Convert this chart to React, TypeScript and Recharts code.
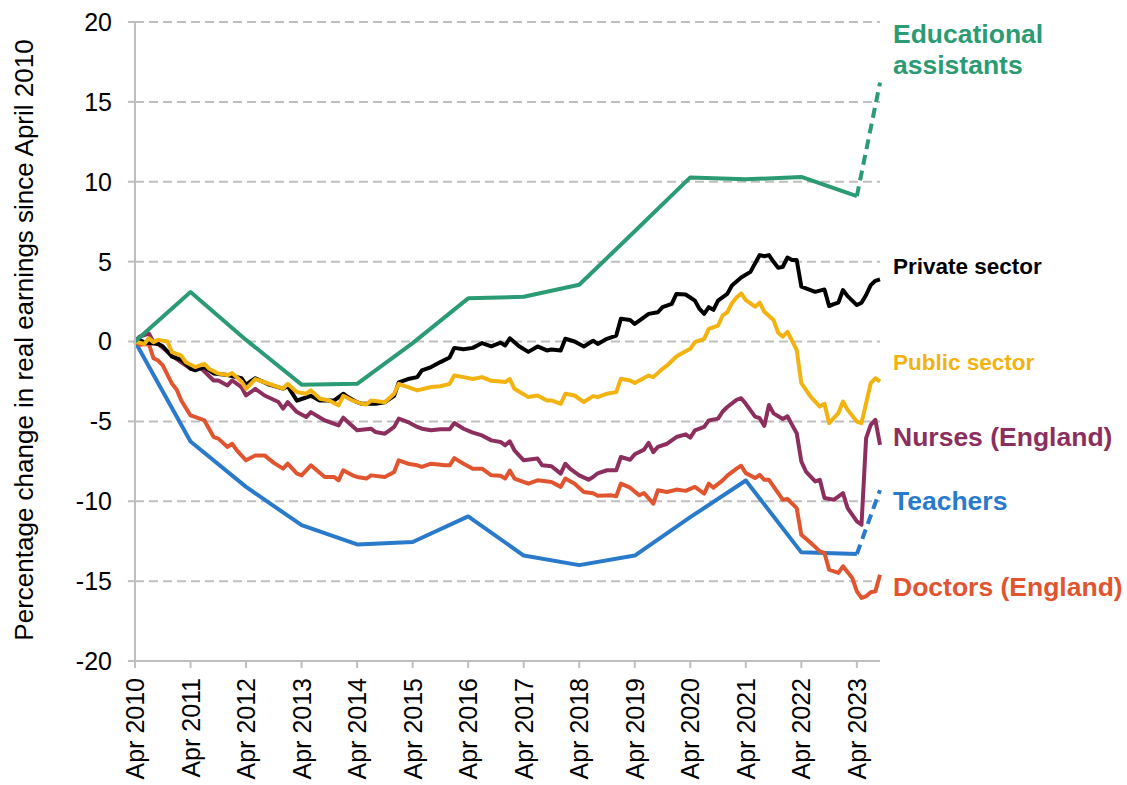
import React from "react";
import {
  LineChart,
  Line,
  XAxis,
  YAxis,
  CartesianGrid,
} from "recharts";

// months counted from Apr 2010 (0) to Sep 2023 (161)
const annualMonths = [0, 12, 24, 36, 48, 60, 72, 84, 96, 108, 120, 132, 144, 156];
const latestMonth = 161;
const xTickLabels = [
  "Apr 2010", "Apr 2011", "Apr 2012", "Apr 2013", "Apr 2014", "Apr 2015", "Apr 2016",
  "Apr 2017", "Apr 2018", "Apr 2019", "Apr 2020", "Apr 2021", "Apr 2022", "Apr 2023",
];
const yTicks = [-20, -15, -10, -5, 0, 5, 10, 15, 20];

// annual series (solid up to Apr 2023, then dashed to the latest figure)
const educationalAssistants = [0, 3.1, 0.1, -2.7, -2.65, -0.1, 2.7, 2.8, 3.55, 6.9, 10.27, 10.15, 10.3, 9.1];
const educationalAssistantsLatest = 16.2;
const teachers = [0, -6.26, -9.1, -11.5, -12.7, -12.55, -10.95, -13.4, -14.0, -13.4, -11.0, -8.7, -13.2, -13.3];
const teachersLatest = -9.3;

// monthly series: [month, % change]
const privateSector: [number, number][] = [
  [0, 0], [1, 0.1], [2, -0.05], [3, -0.1], [5, -0.15], [6, -0.3], [8, -0.95], [10, -1.15],
  [12, -1.7], [13, -1.8], [15, -1.6], [17, -2.0], [20, -2.1], [23, -2.3], [24, -2.7], [26, -2.3],
  [29, -2.7], [32, -2.95], [33, -2.8], [35, -3.7], [36, -3.6], [38, -3.4], [40, -3.7], [43, -3.7],
  [45, -3.27], [46, -3.48], [48, -3.8], [49, -3.9], [52, -3.9], [54, -3.8], [56, -3.4], [57, -2.56],
  [59, -2.35], [61, -2.23], [62, -1.81], [64, -1.6], [66, -1.29], [68, -1.0], [69, -0.4], [71, -0.48],
  [73, -0.4], [75, -0.1], [77, -0.3], [79, -0.07], [80, -0.25], [81, 0.2], [83, -0.3], [85, -0.65],
  [87, -0.31], [89, -0.56], [90, -0.5], [92, -0.56], [93, 0.17], [95, 0], [97, -0.31], [99, 0.05],
  [100, -0.15], [102, 0.17], [104, 0.37], [105, 1.42], [107, 1.35], [108, 1.1], [109, 1.31], [111, 1.73],
  [113, 1.83], [114, 2.15], [116, 2.35], [117, 2.98], [119, 2.94], [121, 2.56], [122, 2.04], [123, 1.73],
  [124, 2.15], [125, 1.98], [126, 2.56], [128, 2.98], [129, 3.5], [130, 3.75], [131, 4.01], [133, 4.36],
  [135, 5.41], [136, 5.34], [137, 5.41], [138, 4.99], [139, 4.61], [140, 4.68], [141, 5.26], [142, 5.1],
  [143, 5.1], [144, 3.43], [146, 3.22], [147, 3.11], [149, 3.26], [150, 2.22], [151, 2.34], [152, 2.43],
  [153, 3.22], [154, 2.84], [156, 2.28], [157, 2.43], [158, 2.91], [159, 3.53], [160, 3.8], [161, 3.89],
];

const publicSector: [number, number][] = [
  [0, 0], [2, -0.15], [3, 0.2], [4, -0.04], [5, 0.1], [7, 0.0], [8, -0.67], [10, -0.88],
  [11, -1.3], [13, -1.6], [15, -1.4], [16, -1.7], [18, -2.0], [20, -2.1], [21, -1.98], [23, -2.5],
  [24, -2.96], [26, -2.35], [28, -2.55], [31, -2.85], [32, -2.95], [33, -2.65], [35, -3.17], [37, -3.27],
  [38, -3.06], [40, -3.58], [42, -3.69], [44, -4.0], [45, -3.4], [47, -3.69], [49, -3.9], [50, -3.94],
  [51, -3.7], [54, -3.8], [56, -3.27], [57, -2.65], [59, -2.85], [61, -3.06], [64, -2.85], [66, -2.8],
  [68, -2.65], [69, -2.13], [71, -2.23], [73, -2.35], [75, -2.23], [77, -2.46], [79, -2.5], [80, -2.54],
  [81, -2.35], [82, -2.96], [85, -3.48], [87, -3.38], [89, -3.69], [90, -3.69], [92, -3.9], [93, -3.27],
  [95, -3.38], [97, -3.79], [99, -3.42], [100, -3.48], [102, -3.27], [104, -3.17], [105, -2.33], [107, -2.44],
  [108, -2.6], [109, -2.44], [111, -2.13], [112, -2.23], [114, -1.71], [115, -1.5], [117, -0.94], [118, -0.77],
  [120, -0.46], [121, -0.04], [123, 0.17], [124, 0.79], [126, 1.0], [127, 1.63], [128, 1.83], [129, 2.4],
  [130, 2.75], [131, 3.01], [132, 2.59], [134, 2.18], [135, 2.43], [136, 1.86], [138, 1.34], [139, 0.55],
  [140, 0.3], [141, 0.61], [143, -0.53], [144, -2.61], [146, -3.45], [148, -4.07], [149, -3.9], [150, -5.11],
  [152, -4.49], [153, -3.76], [154, -4.28], [156, -5.01], [157, -5.11], [159, -2.61], [160, -2.3], [161, -2.51],
];

const nurses: [number, number][] = [
  [0, 0], [1, 0.3], [3, 0.5], [4, -0.05], [5, -0.15], [8, -0.88], [10, -1.3], [12, -1.7],
  [14, -1.6], [17, -2.44], [18, -2.44], [20, -2.75], [21, -2.44], [23, -2.85], [24, -3.38], [26, -2.96],
  [28, -3.38], [31, -3.79], [32, -4.2], [33, -3.79], [35, -4.42], [37, -4.73], [38, -4.42], [41, -4.94],
  [42, -5.04], [44, -5.25], [45, -4.77], [46, -5.04], [48, -5.56], [51, -5.46], [52, -5.67], [54, -5.77],
  [55, -5.56], [56, -5.35], [57, -4.83], [59, -5.04], [61, -5.35], [62, -5.46], [64, -5.56], [66, -5.5],
  [68, -5.5], [69, -5.1], [71, -5.46], [73, -5.7], [75, -5.88], [77, -6.19], [79, -6.29], [80, -6.5],
  [81, -6.25], [82, -6.81], [84, -7.44], [87, -7.33], [88, -7.75], [90, -7.81], [92, -8.27], [93, -7.65],
  [94, -7.96], [96, -8.38], [98, -8.65], [99, -8.48], [100, -8.25], [102, -8.06], [104, -8.06], [105, -7.23],
  [107, -7.4], [108, -7.06], [110, -6.77], [111, -6.35], [112, -6.92], [113, -6.6], [115, -6.4], [117, -5.98],
  [119, -5.81], [120, -6.02], [121, -5.56], [123, -5.35], [124, -4.94], [126, -4.83], [127, -4.38], [128, -4.1],
  [130, -3.65], [131, -3.55], [132, -3.9], [134, -4.7], [135, -4.8], [136, -5.28], [137, -3.97], [138, -4.5],
  [140, -4.85], [141, -4.68], [142, -5.22], [143, -5.74], [144, -7.51], [145, -8.14], [147, -8.76], [148, -8.66],
  [149, -9.8], [151, -9.91], [153, -9.49], [154, -10.43], [156, -11.26], [157, -11.47], [158, -6.05], [159, -5.22],
  [160, -4.91], [161, -6.47],
];

const doctors: [number, number][] = [
  [0, 0], [1, -0.2], [3, -0.15], [4, -1.05], [5, -1.19], [6, -1.5], [8, -2.65], [9, -3.0],
  [10, -3.69], [12, -4.63], [14, -4.83], [15, -4.94], [17, -5.98], [18, -6.08], [20, -6.6], [21, -6.4],
  [22, -6.81], [24, -7.44], [26, -7.13], [28, -7.13], [30, -7.6], [32, -7.96], [33, -7.65], [35, -8.27],
  [36, -8.38], [38, -7.75], [41, -8.48], [43, -8.48], [44, -8.69], [45, -8.06], [47, -8.38], [48, -8.48],
  [50, -8.58], [51, -8.38], [54, -8.48], [56, -8.17], [57, -7.44], [59, -7.65], [61, -7.75], [62, -7.85],
  [64, -7.65], [67, -7.75], [68, -7.75], [69, -7.3], [71, -7.65], [73, -7.96], [75, -7.96], [77, -8.38],
  [79, -8.4], [80, -8.58], [81, -8.08], [82, -8.58], [85, -8.9], [87, -8.69], [90, -8.79], [92, -9.1],
  [93, -8.58], [95, -8.9], [97, -9.42], [99, -9.5], [100, -9.65], [103, -9.63], [104, -9.69], [105, -8.9],
  [107, -9.15], [109, -9.63], [110, -9.48], [112, -10.15], [113, -9.31], [115, -9.42], [117, -9.27], [119, -9.35],
  [121, -9.1], [123, -9.52], [124, -8.9], [125, -9.15], [127, -8.69], [128, -8.4], [130, -7.96], [131, -7.78],
  [132, -8.24], [134, -8.55], [135, -8.35], [136, -8.66], [137, -8.66], [139, -9.49], [140, -9.91], [141, -9.86],
  [143, -10.43], [144, -12.1], [146, -12.6], [148, -13.14], [149, -13.24], [150, -14.28], [152, -14.49], [153, -14.07],
  [155, -14.8], [156, -15.64], [157, -16.05], [158, -15.95], [159, -15.7], [160, -15.64], [161, -14.6],
];

const COLORS = {
  edu: "#2b9b73",
  private: "#000000",
  public: "#f2b20f",
  nurses: "#8c2f5f",
  teachers: "#2a7acb",
  doctors: "#e0552f",
};

const FONT = '"Liberation Sans", Arial, sans-serif';
const GREY = "#bfbfbf";

const toPoints = (rows: [number, number][]) => rows.map(([m, v]) => ({ m, v }));
const annualPoints = (values: number[]) => values.map((v, i) => ({ m: annualMonths[i], v }));
const dashedTail = (values: number[], latest: number) => [
  { m: annualMonths[annualMonths.length - 1], v: values[values.length - 1] },
  { m: latestMonth, v: latest },
];

const XTick = ({ x, y, payload }: any) => {
  const idx = annualMonths.indexOf(payload.value);
  return (
    <text
      transform={`translate(${x},${y}) rotate(-90)`}
      textAnchor="end"
      dominantBaseline="central"
      fontSize={25}
      fontFamily={FONT}
      fill="#000"
    >
      {xTickLabels[idx]}
    </text>
  );
};

const seriesLabels = [
  { text: "Educational", y: 43, size: 26.5, color: COLORS.edu },
  { text: "assistants", y: 74, size: 26.5, color: COLORS.edu },
  { text: "Private sector", y: 274, size: 22.5, color: COLORS.private },
  { text: "Public sector", y: 370, size: 22.5, color: COLORS.public },
  { text: "Nurses (England)", y: 446, size: 26.5, color: COLORS.nurses },
  { text: "Teachers", y: 510, size: 26.5, color: COLORS.teachers },
  { text: "Doctors (England)", y: 596, size: 26.5, color: COLORS.doctors },
];

export default function App() {
  const lineProps = {
    dataKey: "v",
    dot: false,
    activeDot: false,
    isAnimationActive: false,
    strokeWidth: 4,
    strokeLinejoin: "round" as const,
  };

  return (
    <div style={{ position: "absolute", left: 0, top: 0, width: 1127, height: 785, background: "#fff" }}>
      <LineChart width={1127} height={785} margin={{ top: 22, right: 247, bottom: 0, left: 0 }}>
        <CartesianGrid vertical={false} stroke={GREY} strokeWidth={2} strokeDasharray="9 5" />
        <XAxis
          type="number"
          dataKey="m"
          domain={[0, latestMonth]}
          ticks={annualMonths}
          interval={0}
          height={124}
          stroke={GREY}
          strokeWidth={2}
          tickSize={7}
          tickMargin={10}
          tick={<XTick />}
        />
        <YAxis
          type="number"
          domain={[-20, 20]}
          ticks={yTicks}
          interval={0}
          width={135}
          stroke={GREY}
          strokeWidth={2}
          tickSize={7}
          tickMargin={16}
          tick={{ fill: "#000", fontSize: 25, fontFamily: FONT }}
        />
        <Line {...lineProps} data={annualPoints(teachers)} stroke={COLORS.teachers} />
        <Line {...lineProps} data={dashedTail(teachers, teachersLatest)} stroke={COLORS.teachers} strokeDasharray="10 6" />
        <Line {...lineProps} data={toPoints(doctors)} stroke={COLORS.doctors} />
        <Line {...lineProps} data={toPoints(nurses)} stroke={COLORS.nurses} />
        <Line {...lineProps} data={toPoints(privateSector)} stroke={COLORS.private} />
        <Line {...lineProps} data={toPoints(publicSector)} stroke={COLORS.public} />
        <Line {...lineProps} data={annualPoints(educationalAssistants)} stroke={COLORS.edu} />
        <Line
          {...lineProps}
          data={dashedTail(educationalAssistants, educationalAssistantsLatest)}
          stroke={COLORS.edu}
          strokeDasharray="10 6"
        />
      </LineChart>
      <svg width={1127} height={785} style={{ position: "absolute", left: 0, top: 0, pointerEvents: "none" }}>
        <text
          transform="translate(33,340) rotate(-90)"
          textAnchor="middle"
          fontSize={26}
          fontFamily={FONT}
          fill="#000"
        >
          Percentage change in real earnings since April 2010
        </text>
        {seriesLabels.map((l) => (
          <text key={l.text} x={893} y={l.y} fontSize={l.size} fontWeight="bold" fontFamily={FONT} fill={l.color}>
            {l.text}
          </text>
        ))}
      </svg>
    </div>
  );
}
